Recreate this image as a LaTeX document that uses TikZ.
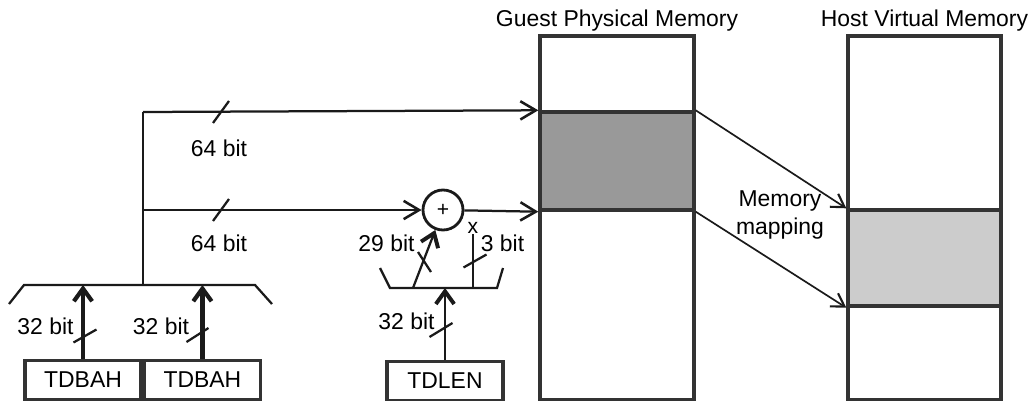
\documentclass[tikz,border=0pt]{standalone}
\usepackage{fontspec}
\setmainfont{Liberation Sans}
\usetikzlibrary{positioning,arrows.meta}
\definecolor{cline}{RGB}{26,26,26}
\definecolor{cbox}{RGB}{51,51,51}
\definecolor{cdark}{RGB}{153,153,153}
\definecolor{clight}{RGB}{204,204,204}

\begin{document}
\begin{tikzpicture}[x=0.025cm, y=-0.025cm,
  font=\fontsize{16.3}{19.5}\selectfont,
  mem/.style={draw=cbox, line width=2.4pt, fill=white, minimum width=3.85cm, inner sep=0pt},
  reg/.style={draw=cbox, line width=2.4pt, minimum width=2.9cm, minimum height=0.975cm, inner sep=0pt},
  title/.style={inner sep=2pt},
  lbl/.style={inner sep=0pt},
  wire/.style={draw=cline, line width=1.6pt},
  bus/.style={wire, -{Straight Barb[length=11pt,width=13pt,line width=1.8pt]}},
  headbus/.style={wire, -{Straight Barb[length=9pt,width=13pt,line width=2.8pt]}},
  fatbus/.style={draw=cline, line width=3pt, -{Straight Barb[length=9pt,width=13pt,line width=3pt]}},
  maparrow/.style={draw=cline, line width=1.2pt, -{Straight Barb[length=9pt,width=11pt,line width=1.5pt]}}]
\useasboundingbox (0,0) rectangle (1033,401);

% memories
\node[mem, minimum height=9.1cm] (gpm) at (617,218) {};
\node[mem, minimum height=2.45cm, fill=cdark] (gblk) at (617,161) {};
\node[mem, minimum width=3.825cm, minimum height=9.1cm] (hvm) at (924.5,218) {};
\node[mem, minimum width=3.825cm, minimum height=2.4cm, fill=clight] (hblk) at (924.5,258) {};
\node[title, above=0pt of gpm.north] (gtitle) {Guest Physical Memory};
\node[title, above=0pt of hvm.north] (htitle) {Host Virtual Memory};

% registers
\node[reg] (bah1) at (83,380) {TDBAH};
\node[reg, right=0pt of bah1] (bah2) {TDBAH};
\node[reg] (len) at (445,381) {TDLEN};

% adder
\node[circle, draw=cline, line width=2pt, minimum size=1cm, inner sep=0pt,
      font=\fontsize{15}{16}\selectfont] (sum) at (443,210) {+};
\node[lbl, font=\fontsize{15}{16}\selectfont] (xlbl) at (473,228) {x};

% brackets
\coordinate (bl) at (24,285);
\coordinate (br) at (255,285);
\draw[wire] (9,304) -- (bl) -- (br) -- (272,304);
\coordinate (sl) at (390,288);
\coordinate (sr) at (497,288);
\draw[wire] (380,268) -- (sl) -- (sr) -- (503,268);

% address paths
\coordinate (tap) at (143,285);
\coordinate (hi) at (143,112);
\coordinate (lo) at (143,210);
\draw[wire] (tap) -- (hi);
\draw[bus] (hi) -- (gblk.north west);
\draw[bus] (lo) -- (sum);
\draw[bus] (sum) -- (gblk.south west);

\draw[fatbus] (bah1.north) -- (bah1.north |- bl);
\draw[fatbus] (bah2.north) -- (bah2.north |- bl);
\draw[headbus] (len.north) -- (len.north |- sl);

\coordinate (s29) at (413,288);
\coordinate (s3) at (473,288);
\draw[headbus] (s29) -- (sum);
\draw[wire] (s3) -- (xlbl.south);

% bus width marks
\foreach \cx/\cy/\dx/\dy in {221/112/8/11, 221/210/8/11, 85/336/11.5/6.5,
    197.5/335/11/7, 441/330/11.5/7, 475/261/11.5/6.5}
  \draw[wire] (\cx-\dx,\cy+\dy) -- (\cx+\dx,\cy-\dy);
\draw[wire] (418,252) -- (431,272);

% mapping
\draw[maparrow] (gblk.north east) -- (hblk.north west);
\draw[maparrow] (gblk.south east) -- (hblk.south west);

% labels
\node[lbl] (w64a) at (219,148) {64 bit};
\node[lbl] (w64b) at (219,243) {64 bit};
\node[lbl] (w32a) at (45.5,326) {32 bit};
\node[lbl] (w32b) at (161,326) {32 bit};
\node[lbl] (w32c) at (406.5,321) {32 bit};
\node[lbl] (w29) at (386.5,243) {29 bit};
\node[lbl] (w3) at (502.5,243) {3 bit};
\node[lbl, align=center] (mlbl) at (780,215) {Memory\\mapping};
\end{tikzpicture}
\end{document}
